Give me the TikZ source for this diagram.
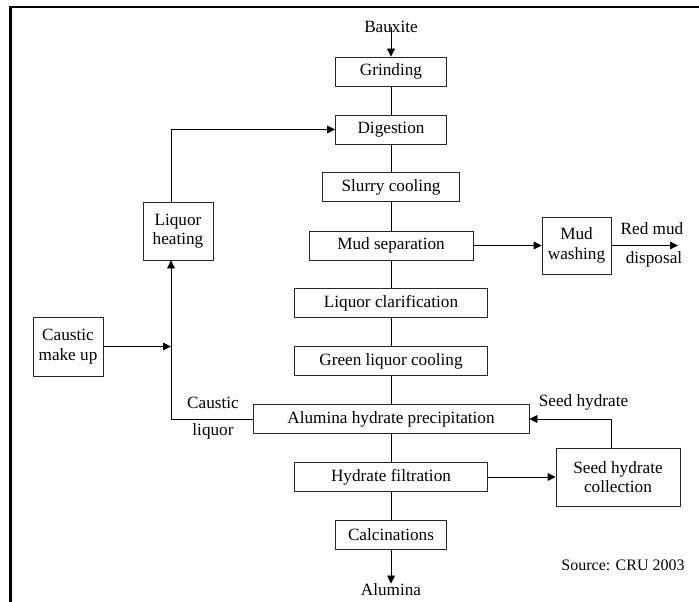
\documentclass[tikz,border=0pt]{standalone}
\usepackage{fontspec}
\setmainfont{Liberation Serif}
\usetikzlibrary{arrows.meta}

\begin{document}
\begin{tikzpicture}[x=0.75pt, y=-0.75pt, thick,
    line width=0.6pt, >={Triangle[length=6pt,width=5.8pt]},
    box/.style={draw=black!85, font=\fontsize{12.9}{14.5}\selectfont, minimum height=21.75pt, inner sep=0pt},
    tall box/.style={box, align=center, minimum height=43.5pt},
    label text/.style={font=\fontsize{12.9}{14.5}\selectfont, inner sep=0pt}]

    \useasboundingbox (0,0) rectangle (699,602);
    \draw[line width=1.6pt] (10.5,602) -- (10.5,7) -- (699,7);

    \node[label text] at (391, 27) (bauxite) {Bauxite};
    \node[box, minimum width=83.25pt] at (391, 71.5) (grind) {Grinding};
    \node[box, minimum width=83.25pt] at (391, 129.5) (digest) {Digestion};
    \node[box, minimum width=102.75pt] at (391, 187) (slurry) {Slurry cooling};
    \node[box, minimum width=123pt] at (391, 245.5) (mudsep) {Mud separation};
    \node[box, minimum width=144.75pt] at (391, 303) (clarif) {Liquor clarification};
    \node[box, minimum width=144.75pt] at (391, 361) (green) {Green liquor cooling};
    \node[box, minimum width=207pt] at (391, 419) (precip) {Alumina hydrate precipitation};
    \node[box, minimum width=144.75pt] at (391, 477) (filtr) {Hydrate filtration};
    \node[box, minimum width=83.25pt] at (391, 535) (calc) {Calcinations};
    \node[label text] at (391, 590) (alumina) {Alumina};

    \node[tall box, minimum width=52.5pt] at (178, 231) (heat) {Liquor\\heating};
    \node[tall box, minimum width=52.5pt, minimum height=44.25pt] at (68, 346.5) (makeup) {Caustic\\make up};
    \node[tall box, minimum width=51.75pt, minimum height=42.75pt] at (576.5, 245.5) (mudwash) {Mud\\washing};
    \node[tall box, minimum width=93pt] at (618, 477) (seedcol) {Seed hydrate\\collection};

    \coordinate (cl) at (171, 419);
    \coordinate (cm) at (171, 346.5);
    \coordinate (rm) at (678, 245.5);
    \coordinate (sh) at (611, 419);

    \node[label text] at (213, 403) (caustic) {Caustic};
    \node[label text] at (213, 431) (liquor) {liquor};
    \node[label text] at (652, 229) (redmud) {Red mud};
    \node[label text] at (654, 259) (disposal) {disposal};
    \node[label text] at (583.5, 402) (seedtxt) {Seed hydrate};
    \node[label text, font=\fontsize{12}{14}\selectfont] at (623, 565) (source) {Source: CRU 2003};

    \draw[->] (bauxite.center) -- (grind.north);
    \draw (grind) -- (digest);
    \draw (digest) -- (slurry);
    \draw (slurry) -- (mudsep);
    \draw (mudsep) -- (clarif);
    \draw (clarif) -- (green);
    \draw (green) -- (precip);
    \draw (precip) -- (filtr);
    \draw (filtr) -- (calc);
    \draw[->] (calc.south) -- (alumina.north);

    \draw[->] (mudsep) -- (mudwash);
    \draw[->] (mudwash.east) -- (rm);
    \draw[->] (filtr) -- (seedcol);
    \draw[->] (seedcol.north -| sh) -- (sh) -- (precip.east);

    \draw[->] (precip.west) -- (cl) -- (heat.south -| cl);
    \draw[->] (makeup.east) -- (cm);
    \draw[->] (heat.north -| cl) |- (digest.west);
\end{tikzpicture}
\end{document}
